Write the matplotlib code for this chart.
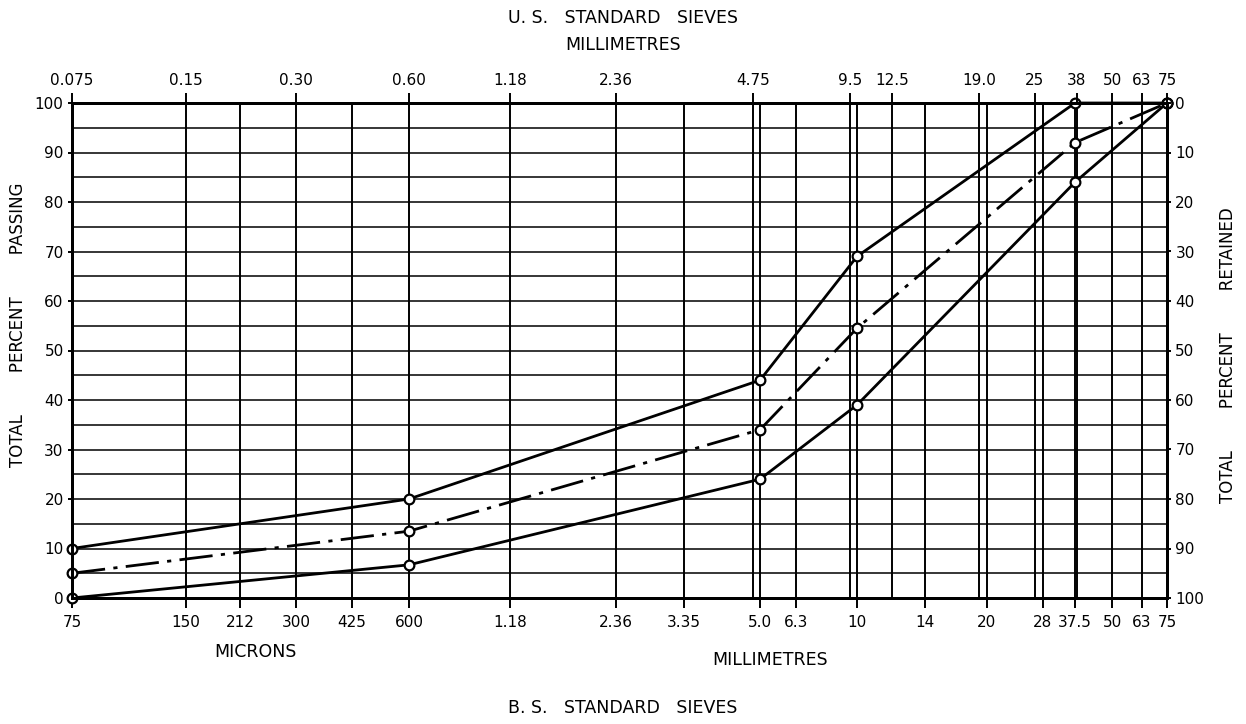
import numpy as np
import matplotlib
matplotlib.use('Agg')
import matplotlib.pyplot as plt
from matplotlib.ticker import NullLocator

# the printed chart's own sieve scale: sieve size (mm) -> distance along the chart
scale_mm = [0.075, 0.15, 0.212, 0.3, 0.425, 0.6, 1.18, 2.36, 3.35, 4.75, 5.0, 6.3,
            9.5, 10, 12.5, 14, 19, 20, 25, 28, 37.5, 50, 63, 75]
scale_pos = [0, 114, 168, 224, 280, 337, 438, 544, 612, 681, 688, 724,
             778, 785, 820, 853, 907, 915, 963, 971, 1003, 1040, 1070, 1095]

# B.S. sieves (bottom axis)
bs_sizes = [0.075, 0.15, 0.212, 0.3, 0.425, 0.6, 1.18, 2.36, 3.35, 5.0, 6.3,
            10, 14, 20, 28, 37.5, 50, 63, 75]
bs_labels = ['75', '150', '212', '300', '425', '600', '1.18', '2.36', '3.35', '5.0', '6.3',
             '10', '14', '20', '28', '37.5', '50', '63', '75']

# U.S. sieves (top axis)
us_sizes = [0.075, 0.15, 0.3, 0.6, 1.18, 2.36, 4.75, 9.5, 12.5, 19.0, 25, 38, 50, 63, 75]
us_labels = ['0.075', '0.15', '0.30', '0.60', '1.18', '2.36', '4.75', '9.5', '12.5',
             '19.0', '25', '38', '50', '63', '75']

# grading curves, total percent passing
curve_sizes = [0.075, 0.6, 5.0, 10, 37.5, 75]
upper = [10, 20, 44, 69, 100, 100]
middle = [5, 13.5, 34, 54.5, 92, 100]
lower = [0, 6.7, 24, 39, 84, 100]


def fwd(x):
    x = np.clip(np.asarray(x, dtype=float), 1e-6, None)
    return np.interp(np.log10(x), np.log10(scale_mm), scale_pos)


def inv(p):
    return 10 ** np.interp(p, scale_pos, np.log10(scale_mm))


fig = plt.figure(figsize=(12.46, 7.24), dpi=100)
ax = fig.add_axes([72 / 1246, 1 - 598 / 724, 1095 / 1246, 495 / 724])
ax.set_xscale('function', functions=(fwd, inv))
ax.set_xlim(0.075, 75)
ax.set_ylim(0, 100)

# grid of the chart paper
for v in range(5, 100, 5):
    ax.axhline(v, color='black', lw=1.1, zorder=1)
for s in sorted(set(bs_sizes + us_sizes)):
    ax.axvline(s, color='black', lw=1.4, zorder=1)

# curves
line_kw = dict(color='black', lw=2, marker='o', ms=7, mfc='white', mec='black',
               mew=1.6, clip_on=False, zorder=5)
ax.plot(curve_sizes, upper, '-', **line_kw)
ax.plot(curve_sizes, middle, dashes=(12, 3, 1.5, 3), **line_kw)
ax.plot(curve_sizes, lower, '-', **line_kw)

# bottom axis: B.S. sieves
ax.set_xticks(bs_sizes, bs_labels)
ax.xaxis.set_minor_locator(NullLocator())
ax.tick_params(axis='x', direction='out', length=7, width=1.4, pad=5, labelsize=11)
ax.set_yticks(range(0, 101, 10))
ax.tick_params(axis='y', direction='out', length=3, width=1.4, pad=3, labelsize=11)

# top axis: U.S. sieves
axt = ax.twiny()
axt.set_xscale('function', functions=(fwd, inv))
axt.set_xlim(0.075, 75)
axt.set_xticks(us_sizes, us_labels)
axt.xaxis.set_minor_locator(NullLocator())
axt.tick_params(axis='x', direction='out', length=7, width=1.4, pad=4, labelsize=11)

# right axis: percent retained
axr = ax.twinx()
axr.set_ylim(100, 0)
axr.set_yticks(range(0, 101, 10))
axr.tick_params(axis='y', direction='out', length=3, width=1.4, pad=3, labelsize=11)

for a in (ax, axt, axr):
    for sp in a.spines.values():
        sp.set_linewidth(2)

# texts
fig.text(0.5, 1 - 18 / 724, 'U. S.   STANDARD   SIEVES', ha='center', va='center', fontsize=12.5)
fig.text(0.5, 1 - 45 / 724, 'MILLIMETRES', ha='center', va='center', fontsize=12.5)
fig.text(255 / 1246, 1 - 652 / 724, 'MICRONS', ha='center', va='center', fontsize=12.5)
fig.text(770 / 1246, 1 - 660 / 724, 'MILLIMETRES', ha='center', va='center', fontsize=12.5)
fig.text(0.5, 1 - 708 / 724, 'B. S.   STANDARD   SIEVES', ha='center', va='center', fontsize=12.5)
fig.text(18 / 1246, 1 - 325 / 724, 'TOTAL        PERCENT        PASSING', rotation=90,
         ha='center', va='center', fontsize=12)
fig.text(1228 / 1246, 1 - 355 / 724, 'TOTAL        PERCENT        RETAINED', rotation=90,
         ha='center', va='center', fontsize=12)

fig.savefig('out.png', dpi=100)
